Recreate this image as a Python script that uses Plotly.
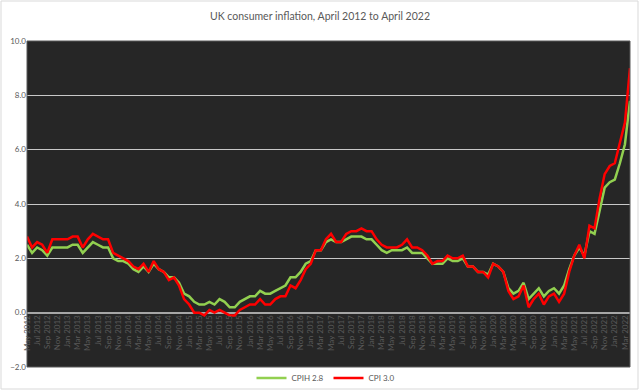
import plotly.graph_objects as go

months = ["Jan", "Feb", "Mar", "Apr", "May", "Jun", "Jul", "Aug", "Sep", "Oct", "Nov", "Dec"]
# May 2012 .. Apr 2022
categories = []
for y in range(2012, 2023):
    for m in range(12):
        if (y == 2012 and m < 4) or (y == 2022 and m > 3):
            continue
        categories.append(f"{months[m]} {y}")

cpih = [
    2.5, 2.2, 2.4, 2.3, 2.1, 2.4, 2.4, 2.4,
    2.4, 2.5, 2.5, 2.2, 2.4, 2.6, 2.5, 2.4, 2.4, 2.0, 1.9, 1.9,
    1.8, 1.6, 1.5, 1.7, 1.5, 1.8, 1.6, 1.5, 1.3, 1.3, 1.1, 0.7,
    0.6, 0.4, 0.3, 0.3, 0.4, 0.3, 0.5, 0.4, 0.2, 0.2, 0.4, 0.5,
    0.6, 0.6, 0.8, 0.7, 0.7, 0.8, 0.9, 1.0, 1.3, 1.3, 1.5, 1.8,
    1.9, 2.3, 2.3, 2.6, 2.7, 2.6, 2.6, 2.7, 2.8, 2.8, 2.8, 2.7,
    2.7, 2.5, 2.3, 2.2, 2.3, 2.3, 2.3, 2.4, 2.2, 2.2, 2.2, 2.0,
    1.8, 1.8, 1.8, 2.0, 1.9, 1.9, 2.0, 1.7, 1.7, 1.5, 1.5, 1.4,
    1.8, 1.7, 1.5, 0.9, 0.7, 0.8, 1.1, 0.5, 0.7, 0.9, 0.6, 0.8,
    0.9, 0.7, 1.0, 1.6, 2.1, 2.4, 2.1, 3.0, 2.9, 3.8, 4.6, 4.8,
    4.9, 5.5, 6.2, 7.8,
]
cpi = [
    2.8, 2.4, 2.6, 2.5, 2.2, 2.7, 2.7, 2.7,
    2.7, 2.8, 2.8, 2.4, 2.7, 2.9, 2.8, 2.7, 2.7, 2.2, 2.1, 2.0,
    1.9, 1.7, 1.6, 1.8, 1.5, 1.9, 1.6, 1.5, 1.2, 1.3, 1.0, 0.5,
    0.3, 0.0, 0.0, -0.1, 0.1, 0.0, 0.1, 0.0, -0.1, -0.1, 0.1, 0.2,
    0.3, 0.3, 0.5, 0.3, 0.3, 0.5, 0.6, 0.6, 1.0, 0.9, 1.2, 1.6,
    1.8, 2.3, 2.3, 2.7, 2.9, 2.6, 2.6, 2.9, 3.0, 3.0, 3.1, 3.0,
    3.0, 2.7, 2.5, 2.4, 2.4, 2.4, 2.5, 2.7, 2.4, 2.4, 2.3, 2.1,
    1.8, 1.9, 1.9, 2.1, 2.0, 2.0, 2.1, 1.7, 1.7, 1.5, 1.5, 1.3,
    1.8, 1.7, 1.5, 0.8, 0.5, 0.6, 1.0, 0.2, 0.5, 0.7, 0.3, 0.6,
    0.7, 0.4, 0.7, 1.5, 2.1, 2.5, 2.0, 3.2, 3.1, 4.2, 5.1, 5.4,
    5.5, 6.2, 7.0, 9.0,
]
series_names = ["CPIH 2.8", "CPI 3.0"]
y_ticks = [-2.0, 0.0, 2.0, 4.0, 6.0, 8.0, 10.0]
title_text = "UK consumer inflation, April 2012 to April 2022"

x = list(range(len(categories)))
tickvals = x[::2]
ticktext = categories[::2]

fig = go.Figure()
fig.add_trace(go.Scatter(x=x, y=cpih, mode="lines", name=series_names[0],
                         line=dict(color="#92D050", width=2.5)))
fig.add_trace(go.Scatter(x=x, y=cpi, mode="lines", name=series_names[1],
                         line=dict(color="#FF0000", width=2.5)))

W, H = 640, 391
L, R, T, B = 27, 10, 41, 24
pw, ph = W - L - R, H - T - B

fig.update_layout(
    width=W, height=H,
    margin=dict(l=L, r=R, t=T, b=B, autoexpand=False),
    paper_bgcolor="white",
    plot_bgcolor="#262626",
    title=dict(text=title_text, x=0.5, xanchor="center", y=1 - 16 / H, yanchor="middle",
               font=dict(family="Lato", size=10.5, color="#595959")),
    font=dict(family="Lato", color="#595959"),
    showlegend=True,
    legend=dict(orientation="h", x=0.5, xanchor="center", y=-11 / ph, yanchor="middle",
                font=dict(size=8, color="#595959"), itemwidth=30, entrywidth=32,
                bgcolor="rgba(0,0,0,0)"),
    xaxis=dict(range=[0, len(categories) - 1], tickmode="array", tickvals=tickvals,
               ticktext=ticktext, tickangle=-90, showgrid=False, zeroline=False,
               showline=False, anchor="free", position=2 / 12, automargin=False,
               tickfont=dict(size=8, color="#595959"), ticks="", fixedrange=True),
    yaxis=dict(range=[-2, 10], tickmode="array", tickvals=y_ticks, tickformat=".1f",
               showgrid=True, gridcolor="#c8c8c8", gridwidth=1, automargin=False,
               zeroline=True, zerolinecolor="#a6a6a6", zerolinewidth=2,
               tickfont=dict(size=8, color="#595959"), ticks="", showline=False),
)

# plot-area border and chart border
fig.add_shape(type="rect", xref="paper", yref="paper", x0=0, x1=1, y0=0, y1=1,
              line=dict(color="#595959", width=1), layer="above")
fig.add_shape(type="rect", xref="paper", yref="paper",
              x0=(1 - L) / pw, x1=(638 - L) / pw,
              y0=(H - B - 389) / ph, y1=(H - B - 1) / ph,
              line=dict(color="#d9d9d9", width=1), layer="below")

fig.write_html("out.html", config={"displayModeBar": False},
               post_script="document.body.style.margin='0';document.body.style.padding='0';")
